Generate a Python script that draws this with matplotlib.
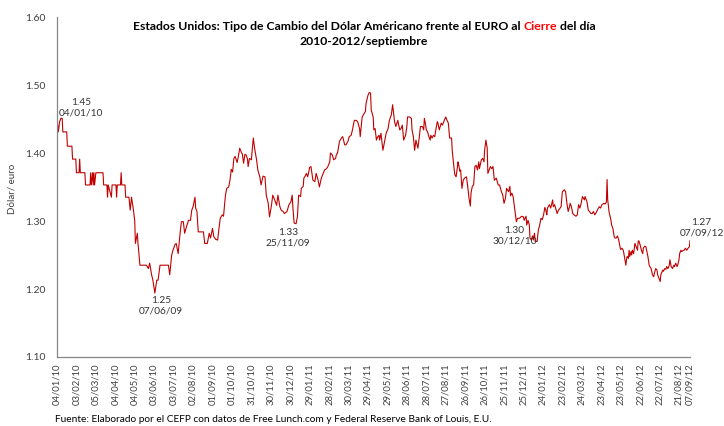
import pandas as pd
import matplotlib
matplotlib.use('Agg')
import matplotlib.pyplot as plt
import matplotlib.transforms as mtransforms
from matplotlib.ticker import FormatStrFormatter

plt.rcParams['font.family'] = ['Lato', 'DejaVu Sans']

# datos: dias desde el 04/01/10 y tipo de cambio
inicio = '2010-01-04'
dias = [
    0, 2, 4, 6, 8, 9, 15, 16, 23, 24, 29, 30, 34, 35, 36, 43, 44, 51, 52, 53,
    55, 56, 57, 58, 60, 71, 72, 77, 78, 79, 84, 85, 91, 92, 93, 98, 99, 100, 105, 106,
    111, 113, 115, 118, 120, 121, 124, 125, 128, 138, 141, 143, 146, 148, 151, 154, 156, 159, 172, 174,
    177, 179, 182, 184, 187, 190, 192, 195, 197, 200, 203, 206, 208, 210, 213, 214, 216, 218, 223, 226,
    228, 232, 235, 237, 240, 242, 245, 248, 250, 252, 255, 257, 260, 262, 265, 267, 269, 271, 273, 275,
    278, 280, 282, 285, 286, 288, 290, 292, 294, 295, 297, 300, 303, 305, 308, 310, 313, 315, 318, 321,
    323, 326, 328, 331, 333, 336, 339, 341, 344, 346, 349, 351, 355, 358, 361, 363, 364, 366, 369, 371,
    373, 376, 377, 380, 381, 383, 385, 387, 390, 392, 395, 398, 400, 403, 405, 408, 410, 413, 416, 418,
    421, 422, 425, 427, 430, 431, 433, 436, 439, 441, 444, 446, 449, 451, 454, 456, 458, 459, 462, 464,
    467, 468, 471, 474, 476, 477, 480, 482, 484, 485, 488, 489, 491, 493, 495, 497, 498, 500, 503, 505,
    508, 511, 513, 516, 518, 521, 523, 526, 529, 531, 533, 535, 538, 540, 541, 544, 547, 548, 550, 552,
    554, 557, 559, 561, 564, 566, 567, 569, 570, 572, 574, 576, 577, 579, 581, 583, 585, 587, 588, 590,
    593, 595, 597, 599, 600, 602, 604, 606, 609, 610, 612, 614, 616, 619, 620, 622, 623, 625, 627, 629,
    632, 634, 636, 638, 639, 641, 643, 645, 647, 649, 651, 652, 655, 657, 659, 660, 662, 664, 665, 667,
    669, 671, 673, 675, 678, 681, 683, 686, 688, 690, 692, 694, 697, 699, 700, 702, 704, 706, 709, 711,
    714, 717, 720, 721, 724, 725, 727, 729, 730, 732, 734, 735, 737, 738, 741, 743, 745, 747, 749, 751,
    753, 755, 756, 757, 760, 762, 765, 766, 768, 772, 774, 775, 778, 780, 783, 785, 787, 789, 791, 792,
    794, 796, 798, 801, 803, 805, 807, 809, 811, 814, 815, 818, 820, 822, 824, 826, 828, 830, 832, 834,
    837, 839, 841, 844, 846, 848, 849, 850, 852, 855, 856, 858, 860, 861, 863, 865, 867, 869, 870, 872,
    874, 875, 877, 878, 879, 880, 882, 883, 884, 886, 887, 888, 890, 891, 892, 894, 896, 897, 898, 900,
    902, 904, 905, 907, 909, 910, 912, 914, 915, 917, 919, 921, 922, 924, 926, 927, 929, 931, 932, 935,
    936, 938, 940, 941, 943, 945, 946, 948, 950, 952, 953, 955, 957, 958, 960, 961, 963, 964, 967, 968,
    970, 972, 974, 976, 977,
]
tipo_cambio = [
    1.451, 1.431, 1.446, 1.451, 1.451, 1.431, 1.431, 1.410, 1.410, 1.391, 1.391, 1.371, 1.371, 1.391, 1.371, 1.371, 1.353, 1.353, 1.371, 1.353,
    1.371, 1.353, 1.371, 1.353, 1.371, 1.371, 1.353, 1.353, 1.335, 1.353, 1.335, 1.353, 1.353, 1.335, 1.353, 1.353, 1.371, 1.353, 1.353, 1.335,
    1.335, 1.316, 1.335, 1.316, 1.300, 1.267, 1.282, 1.267, 1.235, 1.235, 1.230, 1.238, 1.221, 1.213, 1.194, 1.213, 1.213, 1.235, 1.235, 1.221,
    1.250, 1.257, 1.265, 1.267, 1.252, 1.282, 1.299, 1.299, 1.282, 1.292, 1.301, 1.301, 1.316, 1.321, 1.335, 1.319, 1.314, 1.284, 1.284, 1.284,
    1.267, 1.267, 1.282, 1.275, 1.289, 1.277, 1.273, 1.272, 1.289, 1.304, 1.309, 1.307, 1.338, 1.348, 1.350, 1.360, 1.376, 1.372, 1.392, 1.395,
    1.386, 1.395, 1.407, 1.400, 1.399, 1.385, 1.398, 1.397, 1.391, 1.380, 1.392, 1.390, 1.422, 1.407, 1.390, 1.375, 1.365, 1.353, 1.366, 1.365,
    1.338, 1.326, 1.306, 1.323, 1.338, 1.331, 1.323, 1.338, 1.321, 1.316, 1.314, 1.311, 1.314, 1.324, 1.328, 1.338, 1.321, 1.297, 1.296, 1.306,
    1.338, 1.336, 1.348, 1.351, 1.363, 1.366, 1.370, 1.365, 1.379, 1.380, 1.360, 1.358, 1.370, 1.360, 1.350, 1.363, 1.368, 1.375, 1.377, 1.380,
    1.387, 1.400, 1.397, 1.390, 1.392, 1.397, 1.400, 1.417, 1.422, 1.424, 1.412, 1.412, 1.417, 1.424, 1.426, 1.434, 1.444, 1.448, 1.448, 1.446,
    1.436, 1.424, 1.453, 1.458, 1.461, 1.473, 1.485, 1.489, 1.488, 1.463, 1.453, 1.434, 1.436, 1.419, 1.424, 1.426, 1.419, 1.429, 1.404, 1.414,
    1.429, 1.436, 1.448, 1.456, 1.471, 1.446, 1.439, 1.448, 1.434, 1.436, 1.441, 1.419, 1.426, 1.439, 1.453, 1.453, 1.451, 1.434, 1.424, 1.404,
    1.419, 1.407, 1.422, 1.439, 1.439, 1.434, 1.451, 1.441, 1.434, 1.431, 1.424, 1.419, 1.426, 1.422, 1.426, 1.424, 1.436, 1.446, 1.444, 1.434,
    1.444, 1.441, 1.446, 1.451, 1.453, 1.448, 1.444, 1.422, 1.422, 1.404, 1.385, 1.368, 1.365, 1.387, 1.382, 1.373, 1.375, 1.348, 1.360, 1.363,
    1.365, 1.350, 1.333, 1.322, 1.341, 1.351, 1.353, 1.380, 1.382, 1.375, 1.387, 1.377, 1.390, 1.392, 1.387, 1.404, 1.419, 1.407, 1.370, 1.375,
    1.380, 1.377, 1.380, 1.360, 1.363, 1.353, 1.353, 1.343, 1.338, 1.326, 1.333, 1.348, 1.343, 1.351, 1.337, 1.341, 1.336, 1.321, 1.299, 1.304,
    1.304, 1.307, 1.306, 1.301, 1.307, 1.294, 1.301, 1.294, 1.275, 1.272, 1.278, 1.272, 1.282, 1.270, 1.270, 1.287, 1.294, 1.304, 1.302, 1.309,
    1.320, 1.314, 1.309, 1.319, 1.324, 1.319, 1.331, 1.321, 1.324, 1.311, 1.316, 1.317, 1.321, 1.343, 1.346, 1.343, 1.326, 1.314, 1.321, 1.326,
    1.321, 1.311, 1.309, 1.307, 1.309, 1.324, 1.319, 1.326, 1.336, 1.331, 1.336, 1.328, 1.316, 1.314, 1.311, 1.311, 1.314, 1.309, 1.312, 1.316,
    1.321, 1.319, 1.324, 1.326, 1.325, 1.328, 1.361, 1.331, 1.314, 1.301, 1.294, 1.289, 1.277, 1.275, 1.275, 1.278, 1.272, 1.262, 1.258, 1.260,
    1.257, 1.252, 1.240, 1.235, 1.243, 1.248, 1.245, 1.257, 1.248, 1.255, 1.250, 1.257, 1.252, 1.260, 1.267, 1.262, 1.257, 1.270, 1.271, 1.265,
    1.257, 1.252, 1.260, 1.263, 1.262, 1.257, 1.248, 1.235, 1.233, 1.230, 1.221, 1.218, 1.223, 1.230, 1.228, 1.221, 1.216, 1.211, 1.221, 1.228,
    1.226, 1.230, 1.229, 1.233, 1.230, 1.235, 1.243, 1.233, 1.230, 1.235, 1.233, 1.238, 1.233, 1.235, 1.243, 1.252, 1.257, 1.255, 1.257, 1.257,
    1.260, 1.257, 1.260, 1.262, 1.271,
]

etiquetas_x = [
    '04/01/10', '03/02/10', '05/03/10', '04/04/10', '04/05/10', '03/06/10', '03/07/10',
    '02/08/10', '01/09/10', '01/10/10', '31/10/10', '30/11/10', '30/12/10', '29/01/11',
    '28/02/11', '30/03/11', '29/04/11', '29/05/11', '28/06/11', '28/07/11', '27/08/11',
    '26/09/11', '26/10/11', '25/11/11', '25/12/11', '24/01/12', '23/02/12', '24/03/12',
    '23/04/12', '23/05/12', '22/06/12', '22/07/12', '21/08/12', '07/09/12',
]

# etiquetas de los puntos destacados (texto tal cual aparece en la grafica)
notas = ['1.45\n04/01/10', '1.25\n07/06/09', '1.33\n25/11/09', '1.30\n30/12/10', '1.27\n07/09/12']
notas_fecha = ['2010-02-10', '2010-06-14', '2010-12-27', '2011-12-11', '2012-09-25']
notas_valor = [1.466, 1.175, 1.275, 1.278, 1.290]

titulo = ['Estados Unidos: Tipo de Cambio del Dólar Américano frente al EURO al ', 'Cierre', ' del día']
subtitulo = '2010-2012/septiembre'
fuente = 'Fuente: Elaborado por el CEFP con datos de Free Lunch.com y Federal Reserve Bank of Louis, E.U.'

rojo = '#C00000'
gris = '#404040'
W, H = 724, 426
fs_tit = 8.85

fechas = pd.Timestamp(inicio) + pd.to_timedelta(dias, unit='D')

fig = plt.figure(figsize=(W / 100, H / 100), dpi=100)
ax = fig.add_axes([57 / W, 1 - 357 / H, (690 - 57) / W, (357 - 17) / H])

ax.plot(fechas, tipo_cambio, color=rojo, lw=0.8)
ax.set_xlim(fechas[0], fechas[-1])
ax.set_ylim(1.10, 1.60)
ax.set_yticks([1.10, 1.20, 1.30, 1.40, 1.50, 1.60])
ax.yaxis.set_major_formatter(FormatStrFormatter('%.2f'))

pos_x = pd.to_datetime(etiquetas_x, format='%d/%m/%y')
ax.set_xticks(pos_x)
ax.set_xticklabels(etiquetas_x, rotation=90, ha='center', va='top')
# Excel dejo la ultima etiqueta un poco a la derecha
lbl = ax.get_xticklabels()[-1]
lbl.set_transform(lbl.get_transform() + mtransforms.ScaledTranslation(0.1, 0, fig.dpi_scale_trans))

ax.tick_params(axis='both', length=0, labelcolor=gris)
ax.tick_params(axis='y', pad=8.5, labelsize=7.5)
ax.tick_params(axis='x', pad=4.5, labelsize=6.8)

for s in ['top', 'right']:
    ax.spines[s].set_visible(False)
for s in ['left', 'bottom']:
    ax.spines[s].set_color('#868686')
    ax.spines[s].set_linewidth(0.9)

for txt, f, v in zip(notas, notas_fecha, notas_valor):
    ax.text(pd.Timestamp(f), v, txt, ha='center', va='center', fontsize=7.3,
            color='#333333', linespacing=1.2, clip_on=False)

fig.text(12 / W, 1 - 189 / H, 'Dólar/ euro', rotation=90, ha='center', va='center',
         fontsize=7, color=gris)

# titulo con "Cierre" en rojo
fig.canvas.draw()
r = fig.canvas.get_renderer()
cx, y1 = 364, 1 - 30 / H

def ancho(s):
    t = fig.text(0, 0, s, fontsize=fs_tit, fontweight='bold')
    w = t.get_window_extent(r).width
    t.remove()
    return w

total = ancho(''.join(titulo))
x0 = cx - total / 2
offs = [0,
        ancho(titulo[0] + titulo[1]) - ancho(titulo[1]),
        ancho(''.join(titulo)) - ancho(titulo[2])]
for s, o, c in zip(titulo, offs, ['black', 'red', 'black']):
    fig.text((x0 + o) / W, y1, s, fontsize=fs_tit, fontweight='bold', color=c, va='baseline')
fig.text(cx / W, 1 - 45 / H, subtitulo, fontsize=fs_tit, fontweight='bold', ha='center', va='baseline')

fig.text(55 / W, 1 - 419 / H, fuente, fontsize=7.3, color='black', va='center')

fig.savefig('out.png', dpi=100)
